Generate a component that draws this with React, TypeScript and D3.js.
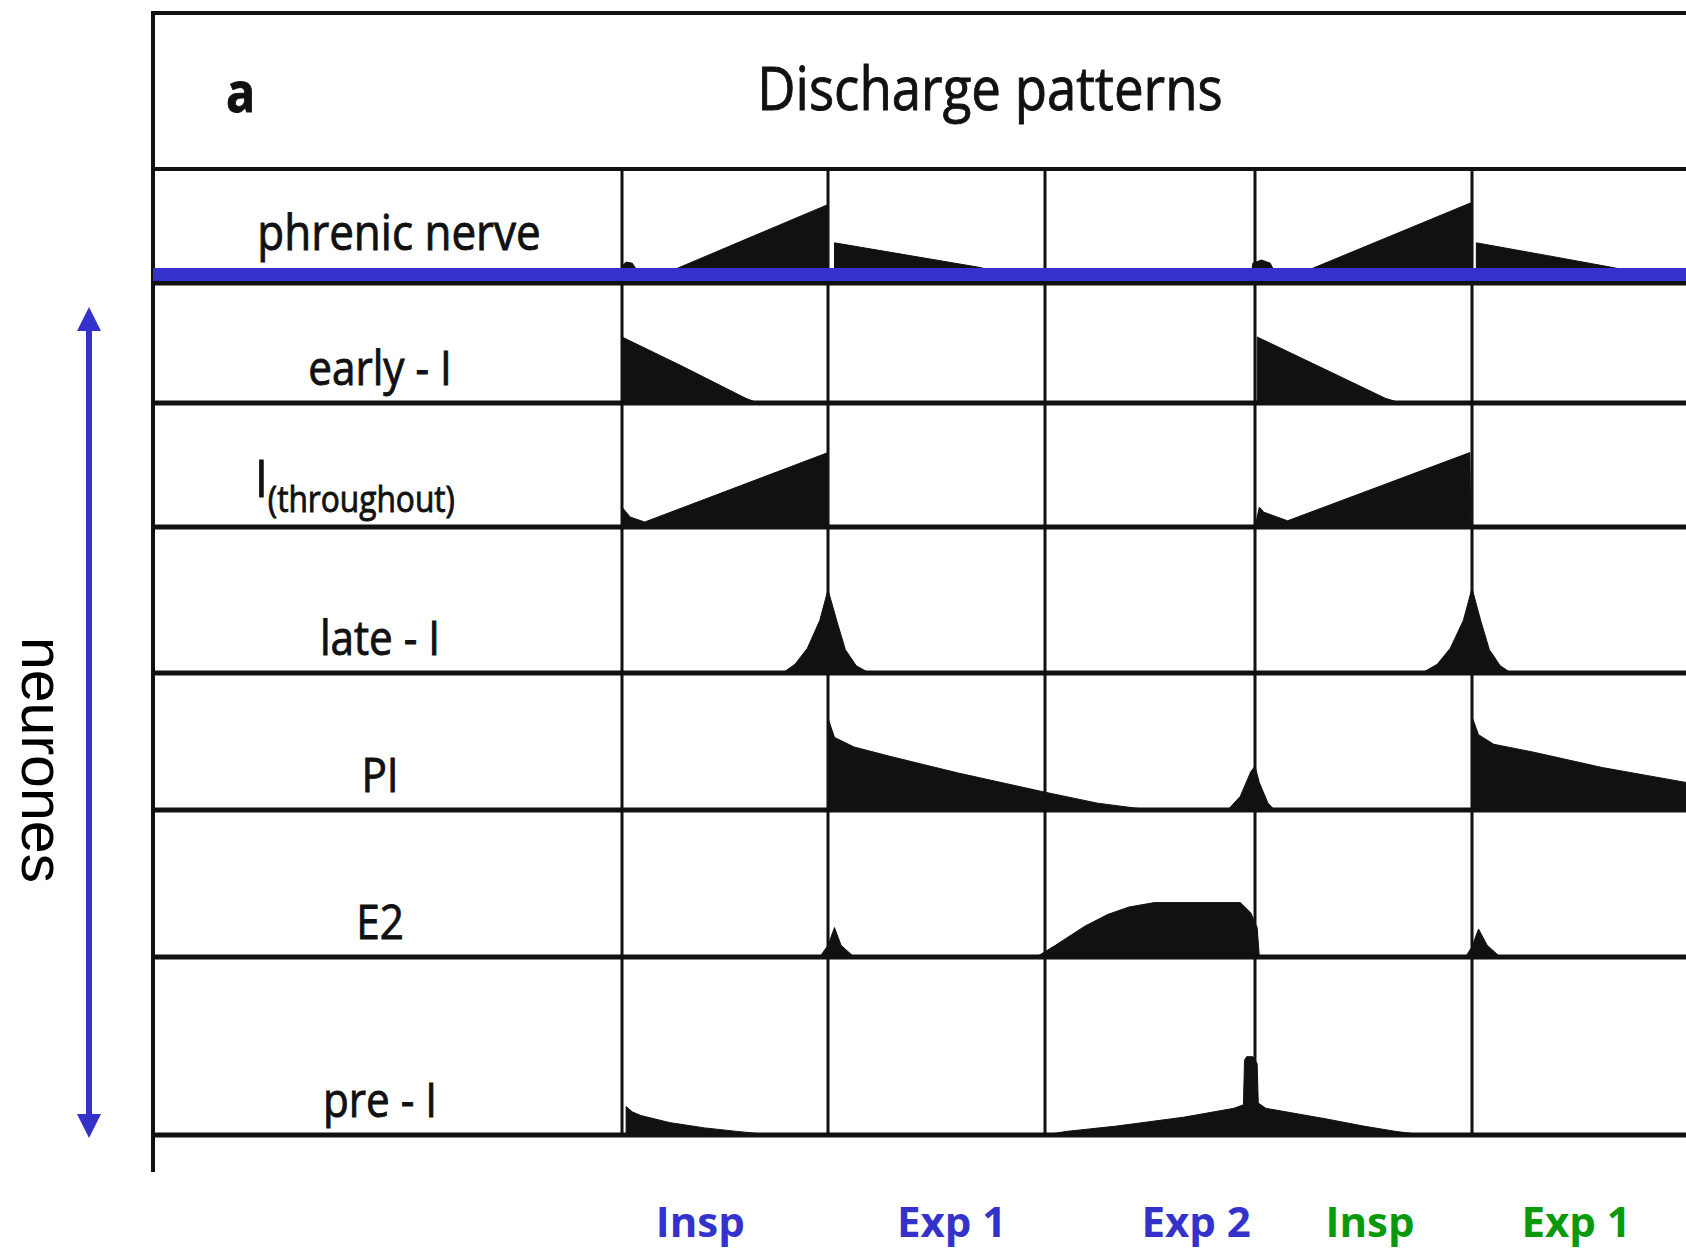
import React from 'react';
import * as d3 from 'd3';

// phase axis: 0 = start of first inspiration, one unit per phase
const phaseTicks = [0, 1, 2, 3, 4, 5];
const phaseLabels = ['Insp', 'Exp 1', 'Exp 2', 'Insp', 'Exp 1'];
const phaseCycle = [1, 1, 1, 2, 2];

const title = 'Discharge patterns';
const panelLetter = 'a';
const sideLabel = 'neurones';

const rowNames = ['phrenic nerve', 'early - I', 'I', 'late - I', 'PI', 'E2', 'pre - I'];
const rowSubs = ['', '', '(throughout)', '', '', '', ''];

// bursts: [phase, activity as fraction of row height]
const phrenic = [
  [[0, 0], [0.005, 0.1], [0.02, 0.13], [0.05, 0.12], [0.08, 0.03], [0.1, 0], [0.18, 0], [0.99, 0.66], [1.0, 0.66], [1.0, 0]],
  [[1.03, 0], [1.03, 0.31], [1.35, 0.2], [1.7, 0.08], [1.85, 0]],
  [[2.98, 0], [2.99, 0.12], [3.03, 0.15], [3.07, 0.12], [3.1, 0], [3.18, 0], [3.99, 0.68], [4.0, 0.68], [4.0, 0]],
  [[4.02, 0], [4.02, 0.31], [4.35, 0.19], [4.66, 0.075], [4.8, 0]],
];
const earlyI = [
  [[0, 0], [0, 0.55], [0.3, 0.3], [0.6, 0.04], [0.66, 0]],
  [[3.01, 0], [3.01, 0.55], [3.3, 0.3], [3.6, 0.04], [3.67, 0]],
];
const throughoutI = [
  [[0, 0], [0, 0.16], [0.04, 0.08], [0.11, 0.04], [1.0, 0.6], [1.0, 0]],
  [[3.0, 0], [3.02, 0.16], [3.04, 0.12], [3.15, 0.05], [3.99, 0.6], [3.995, 0]],
];
const lateI = [
  [[0.78, 0], [0.84, 0.06], [0.9, 0.17], [0.96, 0.36], [1.0, 0.57], [1.04, 0.36], [1.08, 0.16], [1.13, 0.05], [1.19, 0]],
  [[3.77, 0], [3.84, 0.06], [3.9, 0.17], [3.96, 0.36], [4.0, 0.58], [4.04, 0.36], [4.08, 0.16], [4.13, 0.05], [4.18, 0]],
];
const postI = [
  [[1.0, 0], [1.0, 0.67], [1.03, 0.53], [1.12, 0.46], [1.29, 0.39], [1.6, 0.27], [2.0, 0.13], [2.25, 0.05], [2.5, 0]],
  [[2.87, 0], [2.93, 0.1], [2.98, 0.28], [3.0, 0.32], [3.02, 0.2], [3.06, 0.05], [3.09, 0]],
  [[4.0, 0], [4.0, 0.68], [4.03, 0.55], [4.1, 0.48], [4.29, 0.42], [4.6, 0.31], [4.99, 0.2], [5.0, 0]],
];
const e2 = [
  [[0.96, 0], [1.0, 0.08], [1.03, 0.2], [1.06, 0.08], [1.12, 0]],
  [[1.96, 0], [2.05, 0.08], [2.19, 0.21], [2.3, 0.29], [2.4, 0.34], [2.52, 0.37], [2.93, 0.37], [2.98, 0.3], [3.01, 0.2], [3.02, 0]],
  [[3.97, 0], [4.0, 0.07], [4.03, 0.19], [4.07, 0.08], [4.13, 0]],
];
const preI = [
  [[0.02, 0], [0.02, 0.16], [0.05, 0.13], [0.09, 0.11], [0.23, 0.07], [0.4, 0.04], [0.56, 0.02], [0.73, 0]],
  [[2.0, 0], [2.1, 0.02], [2.34, 0.05], [2.66, 0.1], [2.9, 0.15], [2.945, 0.17], [2.95, 0.42], [2.96, 0.44], [2.99, 0.44], [3.01, 0.4],
   [3.015, 0.18], [3.05, 0.15], [3.33, 0.09], [3.5, 0.05], [3.65, 0.02], [3.78, 0]],
];
const rowBursts = [phrenic, earlyI, throughoutI, lateI, postI, e2, preI];

// layout
const rowEdges = [169, 283, 403, 527, 673, 810, 957, 1135];
const phaseLabelAt = [0.38, 1.57, 2.72, 3.53, 4.48];
const BLUE = '#3532cb';
const GREEN = '#0a990a';
const INK = '#111';
const FONT = "'Open Sans', 'Noto Sans', sans-serif";

export default function App() {
  const left = 153, right = 1686;
  const x = d3.scaleLinear().domain(phaseTicks).range([622, 828, 1045, 1255, 1472, 1689]);

  const rowY = (i) => {
    const top = rowEdges[i];
    const bottom = i === 0 ? 276 : rowEdges[i + 1];
    return d3.scaleLinear().domain([0, 1]).range([bottom, top]);
  };

  const area = (y) =>
    d3.area().x((d) => x(d[0])).y0(y(0)).y1((d) => y(d[1])).curve(d3.curveLinear);

  // scanned lettering is a bit heavier than the plain face
  const inkText = { fontFamily: FONT, fill: INK, stroke: INK, strokeWidth: 0.9 };

  return (
    <div style={{ position: 'absolute', left: 0, top: 0 }}>
      <svg width={1686} height={1251} style={{ display: 'block', background: '#fff' }}>
        {/* traces */}
        {rowBursts.map((bursts, i) => {
          const y = rowY(i);
          const a = area(y);
          return (
            <g key={'r' + i}>
              {bursts.map((b, j) => (
                <path key={j} d={a(b)} fill={INK} stroke={INK} strokeWidth={1} strokeLinejoin="round" />
              ))}
            </g>
          );
        })}

        {/* grid */}
        <line x1={left} x2={right} y1={13} y2={13} stroke={INK} strokeWidth={4} />
        <line x1={left} x2={left} y1={11} y2={1172} stroke={INK} strokeWidth={4} />
        {rowEdges.map((e, i) => (
          <line key={'h' + i} x1={left} x2={right} y1={e} y2={e} stroke={INK} strokeWidth={i === 0 ? 4 : 5} />
        ))}
        {phaseTicks.slice(0, 5).map((t) => (
          <line key={'v' + t} x1={x(t)} x2={x(t)} y1={rowEdges[0]} y2={rowEdges[rowEdges.length - 1]} stroke={INK} strokeWidth={3} />
        ))}

        {/* header */}
        <text transform={`translate(226,112) scale(0.88,1)`} {...inkText} fontWeight="bold" fontSize={55}>
          {panelLetter}
        </text>
        <text transform={`translate(990,110) scale(0.88,1)`} textAnchor="middle" {...inkText} fontSize={60}>
          {title}
        </text>

        {/* row labels */}
        {rowNames.map((name, i) => {
          const sub = rowSubs[i];
          const bottom = rowEdges[i + 1];
          if (i === 0) {
            return (
              <text key={name} transform={`translate(399,250) scale(0.88,1)`} textAnchor="middle" {...inkText} fontSize={50}>
                {name}
              </text>
            );
          }
          if (sub) {
            return (
              <text key={name} transform={`translate(255,${bottom - 30}) scale(0.88,1)`} {...inkText} fontSize={52}>
                {name}
                <tspan fontSize={36} dy={15}>{sub}</tspan>
              </text>
            );
          }
          return (
            <text key={name} transform={`translate(380,${bottom - 18}) scale(0.88,1)`} textAnchor="middle" {...inkText} fontSize={48}>
              {name}
            </text>
          );
        })}

        {/* blue overlays */}
        <line x1={left} x2={right} y1={274.5} y2={274.5} stroke={BLUE} strokeWidth={13} />
        <line x1={89} x2={89} y1={325} y2={1118} stroke={BLUE} strokeWidth={6} />
        <path d="M89,307 L77,331 L101,331 Z" fill={BLUE} />
        <path d="M89,1138 L77,1114 L101,1114 Z" fill={BLUE} />
        <text transform="translate(22,760) rotate(90)" textAnchor="middle" fontFamily="'Liberation Sans', Arial, sans-serif" fontSize={59} fill="#000">
          {sideLabel}
        </text>

        {/* phase labels */}
        {phaseLabels.map((lab, i) => (
          <text key={'p' + i} x={x(phaseLabelAt[i])} y={1237} textAnchor="middle" fontFamily={FONT} fontWeight="bold" fontSize={42}
            fill={phaseCycle[i] === 1 ? BLUE : GREEN}>
            {lab}
          </text>
        ))}
      </svg>
    </div>
  );
}
